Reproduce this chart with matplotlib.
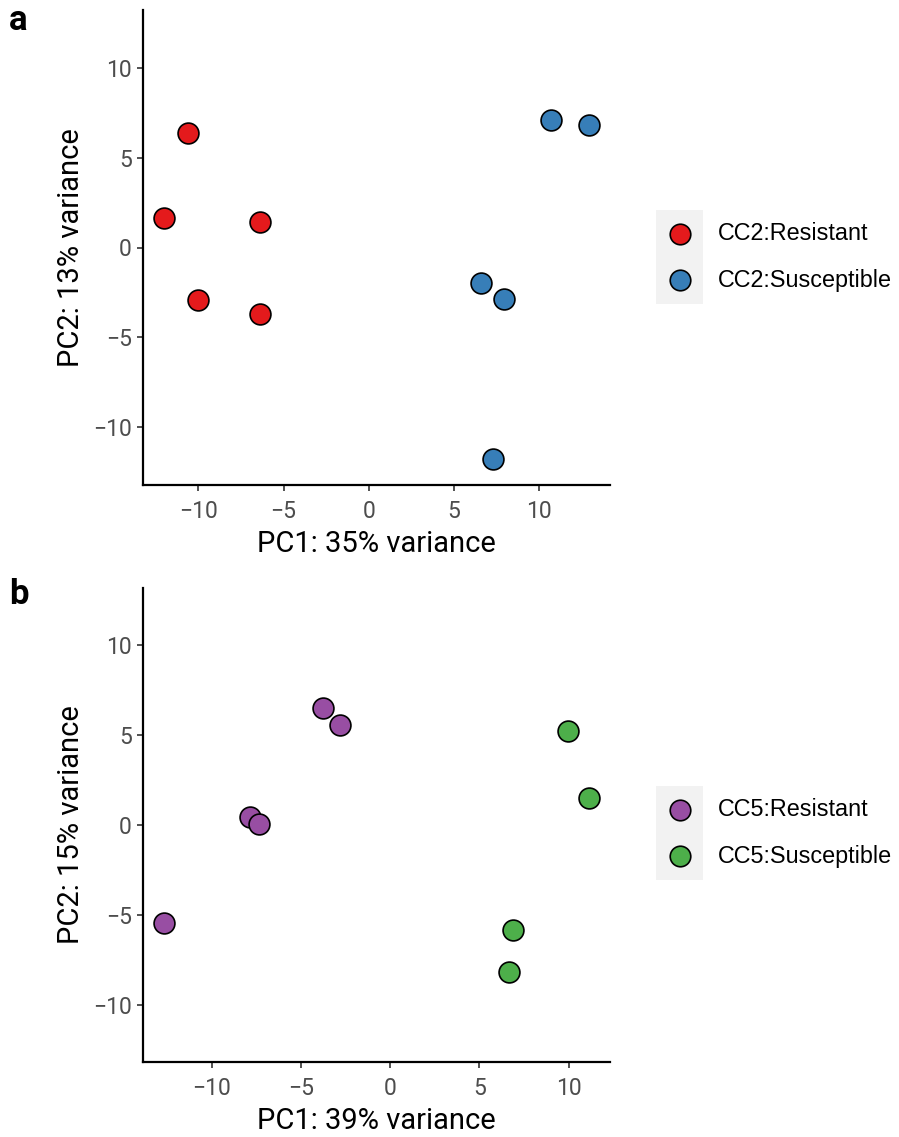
import numpy as np
import matplotlib
matplotlib.use('Agg')
import matplotlib.pyplot as plt
from matplotlib.patches import Rectangle

# PCA coordinates
cc2_res_x = [-10.6, -12.0, -6.4, -10.0, -6.4]
cc2_res_y = [6.34, 1.65, 1.39, -2.9, -3.7]
cc2_sus_x = [10.7, 12.9, 6.6, 7.95, 7.3]
cc2_sus_y = [7.08, 6.82, -1.95, -2.85, -11.75]

cc5_res_x = [-3.76, -2.8, -7.84, -7.36, -12.66]
cc5_res_y = [6.5, 5.56, 0.44, 0.04, -5.45]
cc5_sus_x = [9.96, 11.13, 6.86, 6.64]
cc5_sus_y = [5.24, 1.5, -5.86, -8.16]

ticks = [-10, -5, 0, 5, 10]

W, H = 899, 1137
fig = plt.figure(figsize=(W/100, H/100), dpi=100)
plt.rcParams['font.family'] = ['Roboto', 'DejaVu Sans']

def px_axes(l, t, r, b):
    return fig.add_axes([l/W, 1-b/H, (r-l)/W, (b-t)/H])

def style(ax, xlabel, ylabel, xlim):
    ax.set_xlim(xlim)
    ax.set_ylim(-13.2, 13.2)
    ax.set_xticks(ticks)
    ax.set_yticks(ticks)
    ax.set_xticklabels(['\u221210', '\u22125', '0', '5', '10'])
    ax.set_yticklabels(['\u221210', '\u22125', '0', '5', '10'])
    for s in ['top', 'right']:
        ax.spines[s].set_visible(False)
    for s in ['left', 'bottom']:
        ax.spines[s].set_linewidth(1.6)
        ax.spines[s].set_color('black')
    ax.tick_params(length=4, width=1.2, color='#333333', labelcolor='#4D4D4D',
                   labelsize=16.5, pad=4)
    ax.tick_params(axis='x', pad=6.5)
    ax.set_xlabel(xlabel, fontsize=21, color='black', labelpad=5)
    ax.set_ylabel(ylabel, fontsize=21, color='black', labelpad=6)

def legend(top, labels, colors):
    fig.add_artist(Rectangle((656/W, 1-(top+94)/H), 47/W, 94/H,
                             transform=fig.transFigure, facecolor='#F2F2F2',
                             edgecolor='none'))
    for i, (lab, c) in enumerate(zip(labels, colors)):
        yc = top + 24 + i*46
        fig.add_artist(plt.Line2D([679.5/W], [1-yc/H], marker='o', markersize=14.8,
                                  markerfacecolor=c, markeredgecolor='black',
                                  markeredgewidth=1.2, transform=fig.transFigure))
        fig.text(718/W, 1-yc/H, lab, fontsize=16.8, va='center', ha='left',
                 family=['Liberation Sans', 'DejaVu Sans'])

pt = dict(s=225, edgecolors='black', linewidths=1.2, zorder=3, clip_on=False)

ax_a = px_axes(143, 10, 610, 485)
ax_a.scatter(cc2_res_x, cc2_res_y, c='#E41A1C', **pt)
ax_a.scatter(cc2_sus_x, cc2_sus_y, c='#377EB8', **pt)
style(ax_a, 'PC1: 35% variance', 'PC2: 13% variance', (-13.25, 14.15))
legend(210, ['CC2:Resistant', 'CC2:Susceptible'], ['#E41A1C', '#377EB8'])

ax_b = px_axes(143, 588, 610, 1062)
ax_b.scatter(cc5_res_x, cc5_res_y, c='#984EA3', **pt)
ax_b.scatter(cc5_sus_x, cc5_sus_y, c='#4DAF4A', **pt)
style(ax_b, 'PC1: 39% variance', 'PC2: 15% variance', (-13.85, 12.32))
legend(786, ['CC5:Resistant', 'CC5:Susceptible'], ['#984EA3', '#4DAF4A'])

fig.text(9/W, 1-20/H, 'a', fontsize=25, fontweight='bold', va='center')
fig.text(9/W, 1-594/H, 'b', fontsize=25, fontweight='bold', va='center')

fig.savefig('out.png', dpi=100)
